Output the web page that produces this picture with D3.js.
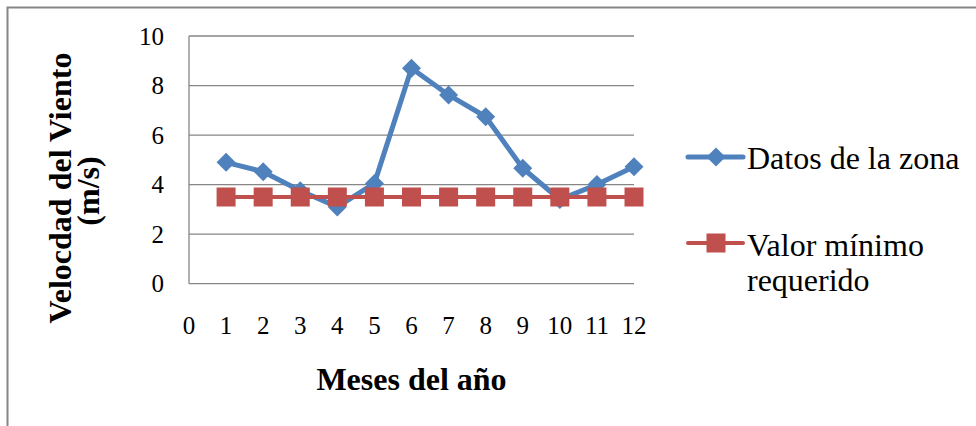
<!DOCTYPE html>
<html>
<head>
<meta charset="utf-8">
<script src="https://cdn.jsdelivr.net/npm/d3@7"></script>
<style>
  html, body { margin: 0; padding: 0; background: #fff; }
  svg { display: block; }
  text { font-family: "Liberation Serif", "DejaVu Serif", serif; fill: #000; }
</style>
</head>
<body>
<script>
const months = [1, 2, 3, 4, 5, 6, 7, 8, 9, 10, 11, 12];
const datosZona = [4.9, 4.52, 3.75, 3.1, 4.05, 8.7, 7.62, 6.74, 4.66, 3.4, 4.0, 4.72];
const valorMinimo = [3.5, 3.5, 3.5, 3.5, 3.5, 3.5, 3.5, 3.5, 3.5, 3.5, 3.5, 3.5];
const xTicks = [0, 1, 2, 3, 4, 5, 6, 7, 8, 9, 10, 11, 12];
const yTicks = [0, 2, 4, 6, 8, 10];
const seriesNames = ["Datos de la zona", "Valor mínimo requerido"];
const xTitle = "Meses del año";
const yTitleLines = ["Velocdad del Viento", "(m/s)"];

const W = 976, H = 426;
const blue = "#4F81BD", red = "#C0504D", grid = "#868686";

const svg = d3.select("body").append("svg").attr("width", W).attr("height", H);

// outer border
svg.append("rect").attr("x", 7.5).attr("y", 7.5).attr("width", 1200).attr("height", 1200)
  .attr("fill", "none").attr("stroke", grid).attr("stroke-width", 2);

const x = d3.scaleLinear().domain([0, 12]).range([189, 634]);
const y = d3.scaleLinear().domain([0, 10]).range([283.7, 36]);

// gridlines
svg.append("g").selectAll("line").data(yTicks).join("line")
  .attr("x1", x(0)).attr("x2", x(12))
  .attr("y1", d => y(d)).attr("y2", d => y(d))
  .attr("stroke", grid).attr("stroke-width", 1.3);
// left axis line
svg.append("line").attr("x1", x(0)).attr("x2", x(0)).attr("y1", y(10)).attr("y2", y(0))
  .attr("stroke", grid).attr("stroke-width", 1.3);

// y tick labels
svg.append("g").selectAll("text").data(yTicks).join("text")
  .attr("x", 164).attr("y", d => y(d) + 8.5)
  .attr("text-anchor", "end").attr("font-size", 25).text(d => d);

// x tick labels
svg.append("g").selectAll("text").data(xTicks).join("text")
  .attr("x", d => x(d)).attr("y", 334)
  .attr("text-anchor", "middle").attr("font-size", 25).text(d => d);

// titles
svg.append("text").attr("x", (x(0) + x(12)) / 2).attr("y", 390)
  .attr("text-anchor", "middle").attr("font-size", 32).attr("font-weight", "bold").text(xTitle);
const yt = svg.append("g").attr("transform", "translate(0,188) rotate(-90)");
yt.append("text").attr("x", 0).attr("y", 71).attr("text-anchor", "middle")
  .attr("font-size", 32).attr("font-weight", "bold").text(yTitleLines[0]);
yt.append("text").attr("x", -3).attr("y", 99).attr("text-anchor", "middle")
  .attr("font-size", 32).attr("font-weight", "bold").text(yTitleLines[1]);

const diamond = (s) => `M0,${-s}L${s},0L0,${s}L${-s},0Z`;

// blue series
const line = d3.line().x((d, i) => x(months[i])).y(d => y(d));
svg.append("path").datum(datosZona).attr("d", line)
  .attr("fill", "none").attr("stroke", blue).attr("stroke-width", 5).attr("stroke-linejoin", "round");
svg.append("g").selectAll("path").data(datosZona).join("path")
  .attr("transform", (d, i) => `translate(${x(months[i])},${y(d)})`)
  .attr("d", diamond(9.5)).attr("fill", blue);

// red series
svg.append("path").datum(valorMinimo).attr("d", line)
  .attr("fill", "none").attr("stroke", red).attr("stroke-width", 4);
svg.append("g").selectAll("rect").data(valorMinimo).join("rect")
  .attr("x", (d, i) => x(months[i]) - 9.5).attr("y", d => y(d) - 9.5)
  .attr("width", 19).attr("height", 19).attr("fill", red);

// legend
const lg = svg.append("g");
lg.append("line").attr("x1", 688).attr("x2", 743).attr("y1", 157).attr("y2", 157)
  .attr("stroke", blue).attr("stroke-width", 5).attr("stroke-linecap", "round");
lg.append("path").attr("transform", "translate(716,157)").attr("d", diamond(9.5)).attr("fill", blue);
lg.append("text").attr("x", 747).attr("y", 169).attr("font-size", 32).text(seriesNames[0]);

lg.append("line").attr("x1", 688).attr("x2", 743).attr("y1", 243).attr("y2", 243)
  .attr("stroke", red).attr("stroke-width", 4).attr("stroke-linecap", "round");
lg.append("rect").attr("x", 706.5).attr("y", 233.5).attr("width", 19).attr("height", 19).attr("fill", red);
const t2 = lg.append("text").attr("x", 747).attr("y", 256).attr("font-size", 32);
t2.append("tspan").attr("x", 747).text("Valor mínimo");
t2.append("tspan").attr("x", 747).attr("dy", 35).text("requerido");
</script>
</body>
</html>
